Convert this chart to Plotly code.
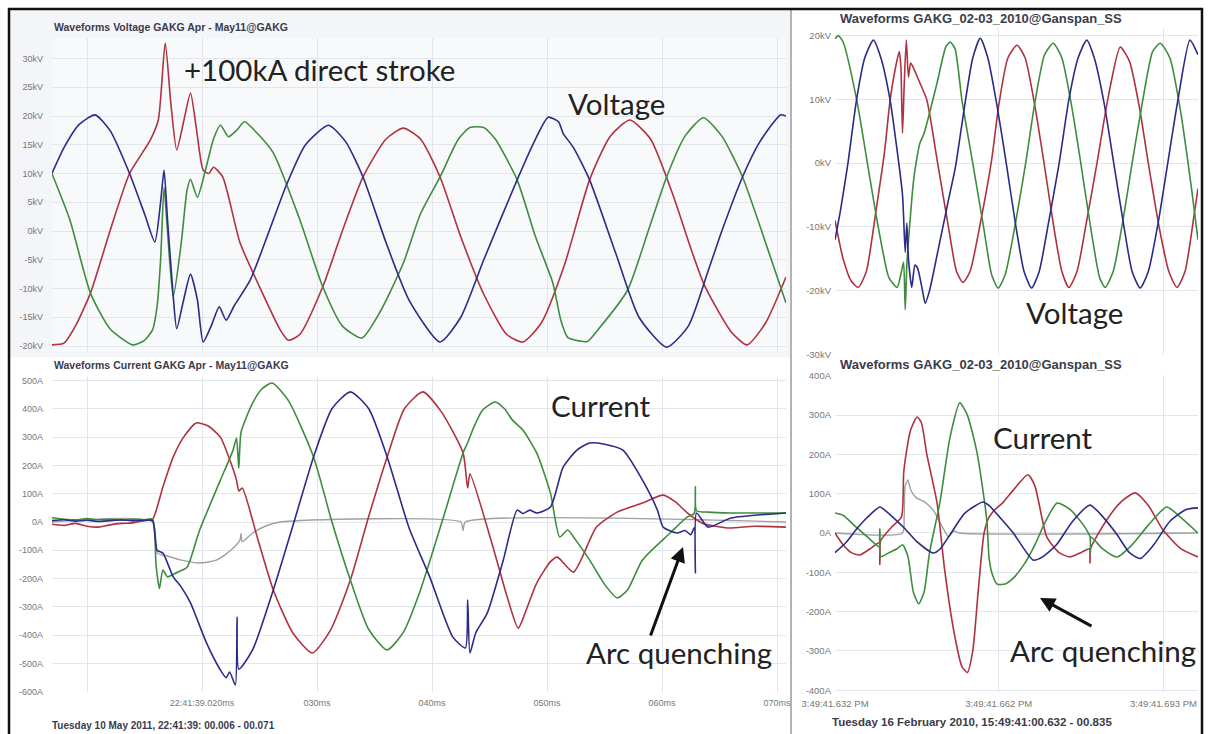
import plotly.graph_objects as go

W, H = 1210, 734

# ---------------- LEFT PANEL: voltage (kV) vs time (ms) ----------------
lv_blue_t = [6.95, 8.0, 9.3, 10.7, 12.0, 13.7, 15.0, 15.9, 16.4, 16.7, 17.0, 17.5, 17.8, 18.4, 19.0, 19.6, 20.1, 20.8,
             21.5, 22.1, 22.8, 24.2, 27.4, 29.0, 31.0, 32.5, 34.0, 36.0, 38.0, 40.7, 42.5, 44.5, 47.4, 49.0, 50.1, 51.0,
             51.4, 52.3, 53.7, 56.0, 58.0, 60.4, 62.3, 64.0, 65.2, 67.0, 68.5, 70.3, 70.78]
lv_blue_v = [10.0, 14.5, 18.5, 20.2, 17.5, 10.0, 3.0, -1.9, 5.0, 10.6, 2.0, -11.4, -17.0, -12.0, -7.5, -12.0, -19.3, -16.5,
             -13.2, -15.5, -13.0, -8.5, 8.3, 15.0, 18.4, 15.5, 9.4, -2.0, -12.0, -19.3, -15.0, -5.0, 8.9, 16.0, 19.8, 19.0,
             17.0, 14.5, 8.9, -4.0, -15.0, -20.2, -16.5, -7.0, 0.0, 9.4, 15.5, 20.2, 20.0]

lv_red_t = [6.95, 8.0, 9.0, 10.3, 12.0, 13.7, 15.5, 16.2, 16.8, 17.3, 17.8, 18.4, 19.0, 19.5, 20.1, 20.6, 21.0, 21.8,
            23.3, 25.0, 26.8, 27.5, 28.5, 30.5, 32.2, 34.0, 36.0, 37.5, 39.0, 40.7, 42.5, 44.5, 46.5, 47.9, 49.5, 51.5,
            53.7, 55.5, 57.2, 59.0, 61.0, 62.5, 63.7, 66.0, 67.4, 69.0, 70.78]
lv_red_v = [-19.8, -19.5, -16.5, -10.8, 0.0, 10.0, 15.8, 19.3, 32.7, 22.0, 14.1, 19.0, 24.0, 18.0, 10.6, 10.0, 11.1, 9.4,
            -2.0, -9.7, -17.2, -19.0, -18.0, -9.7, 0.0, 9.4, 16.0, 17.9, 16.0, 9.4, -1.0, -11.0, -18.0, -19.3, -16.0, -6.0,
            8.9, 16.5, 19.3, 16.0, 6.0, -3.0, -9.5, -17.5, -19.8, -16.0, -8.0]

lv_green_t = [6.95, 8.5, 10.3, 12.0, 14.0, 15.0, 15.7, 16.1, 16.4, 16.7, 17.0, 17.5, 18.2, 18.7, 19.0, 19.6, 20.3, 21.0,
              21.6, 22.3, 23.0, 23.7, 24.8, 26.2, 28.5, 30.5, 32.2, 33.9, 35.5, 37.5, 39.0, 40.7, 42.3, 43.3, 44.5, 45.5,
              47.4, 49.0, 50.5, 51.2, 51.8, 52.5, 53.5, 54.5, 57.0, 58.8, 60.4, 62.0, 63.6, 65.2, 67.0, 69.0, 70.78]
lv_green_v = [10.0, 2.0, -10.8, -17.0, -19.8, -19.0, -17.2, -13.0, -5.0, 7.6, 0.0, -11.4, -2.0, 7.1, 9.0, 5.9, 10.6, 16.0,
              18.4, 16.4, 17.5, 19.0, 17.0, 13.6, 2.0, -9.7, -16.5, -18.6, -14.0, -5.6, 3.0, 9.4, 16.0, 18.0, 18.0, 16.0,
              8.9, -1.0, -9.0, -15.5, -18.5, -19.0, -19.2, -17.0, -10.3, 0.0, 9.4, 16.5, 19.7, 16.5, 9.4, -2.0, -12.5]

# ---------------- LEFT PANEL: current (A) ----------------
li_red_t = [6.95, 8.0, 9.0, 10.0, 11.0, 12.0, 13.0, 14.0, 15.0, 15.7, 16.6, 17.5, 18.4, 19.5, 20.5, 21.6, 22.5, 23.0,
            23.2, 23.5, 24.8, 26.2, 27.9, 29.6, 31.2, 32.9, 34.5, 36.1, 37.6, 39.2, 40.8, 42.7, 43.1, 43.3, 45.3, 46.5,
            47.5, 48.2, 49.1, 50.3, 50.9, 52.3, 54.3, 56.1, 58.3, 60.1, 61.2, 62.2, 63.5, 65.7, 68.0, 70.78]
li_red_i = [-8, -12, -5, -15, -18, -10, -5, -3, 5, 10, 124, 230, 300, 350, 340, 300, 210, 148,
            110, 120, -53, -240, -392, -463, -380, -205, 20, 230, 400, 460, 390, 244, 120, 170, -88, -260,
            -375, -310, -216, -140, -124, -177, -18, 35, 67, 95, 70, 32, -4, -21, -15, -18]

li_green_t = [6.95, 8.0, 9.0, 10.0, 11.0, 12.0, 13.0, 14.0, 15.0, 15.7, 16.0, 16.2, 16.3, 16.6, 17.0, 17.5, 18.0, 18.7,
              19.8, 21.6, 22.7, 23.0, 23.2, 23.4, 24.4, 25.2, 26.1, 27.5, 29.7, 31.3, 32.9, 34.5, 36.1, 37.5, 39.0,
              41.0, 42.7, 43.1, 43.6, 44.4, 45.5, 46.3, 47.0, 47.9, 49.1, 50.3, 51.1, 51.8, 52.5, 53.7, 55.0, 56.1,
              57.0, 58.3, 60.7, 62.2, 62.8, 62.9, 63.0, 64.0, 66.0, 70.78]
li_green_i = [15, 10, 8, 12, 8, 10, 6, 10, 8, 10, -150, -216, -235, -170, -194, -185, -175, -160,
              -28, 148, 254, 297, 190, 318, 420, 470, 491, 430, 230, 0, -205, -380, -452, -390, -240,
              18, 244, 280, 332, 396, 424, 400, 360, 325, 244, 102, -53, -28, -64, -134, -220, -268,
              -240, -134, -39, 18, 30, 124, 40, 35, 32, 32]

li_blue_t = [6.95, 8.0, 9.0, 10.0, 11.0, 12.0, 13.0, 14.0, 15.0, 15.7, 16.1, 16.6, 17.5, 18.2, 19.0, 20.4, 21.6, 22.1,
             22.4, 22.9, 23.05, 23.2, 24.4, 26.2, 28.0, 29.7, 31.3, 32.9, 34.5, 36.1, 38.0, 39.8, 41.8, 42.9, 43.1,
             43.3, 43.8, 44.8, 46.2, 47.4, 47.9, 48.5, 49.1, 50.3, 51.4, 52.6, 53.7, 55.0, 56.6, 58.3, 59.6, 60.1,
             61.3, 62.0, 62.5, 62.8, 62.9, 63.0, 64.0, 66.0, 70.78]
li_blue_i = [5, 8, 3, 6, 2, 5, 8, 4, 6, 5, -100, -110, -194, -230, -286, -428, -523, -550,
             -530, -576, -336, -520, -452, -240, 0, 230, 400, 460, 400, 230, -20, -194, -406, -445, -275,
             -463, -392, -322, -134, 42, 30, 42, 32, 53, 194, 254, 279, 275, 254, 148, 42, -18,
             -39, -30, -45, -20, -180, 32, -18, 14, 32]

li_gray_t = [6.95, 15.7, 16.1, 17.0, 18.1, 19.8, 21.3, 22.5, 23.3, 23.4, 23.5, 24.4, 25.5, 26.8, 42.5, 42.7, 42.9, 70.78]
li_gray_i = [0, 0, -110, -120, -134, -145, -134, -100, -64, -40, -70, -39, -15, 0, 0, -30, 0, 0]

# ---------------- RIGHT PANEL: voltage (kV) ----------------
rv_green_t = [632.0, 632.6, 633.5, 636.0, 638.0, 640.0, 642.0, 643.5, 644.3, 644.7, 645.0, 645.3, 646.0, 646.5, 647.0,
              647.7, 648.5, 650.9, 652.5, 653.3, 654.2, 655.5, 657.5, 659.5, 661.0, 662.2, 663.5, 665.5, 667.3,
              669.0, 670.8, 672.4, 674.0, 676.0, 677.5, 679.5, 681.0, 682.0, 683.5, 685.5, 687.0, 689.0, 690.8,
              692.2, 694.0, 696.0, 698.0, 699.2]
rv_green_v = [19.5, 20.0, 19.0, 10.0, 0.0, -10.0, -18.0, -19.5, -17.0, -15.5, -23.0, -16.0, -7.9, -3.1, 0.0,
              3.1, 4.7, 12.6, 18.2, 19.0, 18.0, 9.9, 0.0, -10.0, -17.5, -19.6, -17.5, -9.0, 0.0,
              9.5, 17.0, 18.8, 16.5, 8.0, 0.0, -11.0, -18.0, -19.5, -17.0, -8.0, 0.0, 10.0, 17.5,
              18.8, 16.5, 8.0, -4.0, -12.0]

rv_blue_t = [632.0, 633.0, 634.4, 636.0, 637.5, 639.1, 640.5, 642.2, 643.5, 644.5, 645.0, 645.3, 645.6, 646.2, 646.8,
             647.3, 648.2, 648.7, 649.5, 651.0, 653.0, 654.3, 656.0, 657.5, 658.9, 660.3, 662.0, 663.7, 665.5,
             667.0, 668.4, 669.8, 671.5, 673.5, 675.3, 677.0, 678.6, 680.0, 681.8, 683.6, 685.5, 687.0, 688.5,
             690.0, 691.8, 693.6, 695.5, 697.7, 699.2]
rv_blue_v = [-12.0, -7.5, 0.0, 10.0, 16.5, 19.3, 16.5, 9.9, 2.0, -5.0, -14.0, -9.4, -15.0, -19.5, -16.0,
             -16.5, -20.0, -22.0, -20.0, -14.0, -5.8, -0.6, 9.0, 16.5, 19.6, 16.5, 9.0, 0.0, -10.0,
             -17.0, -19.6, -17.0, -9.5, 0.0, 10.0, 16.5, 19.3, 16.5, 9.5, 0.0, -10.0, -17.0, -19.6,
             -17.0, -9.5, 0.0, 10.0, 19.3, 17.0]

rv_red_t = [632.0, 633.5, 635.0, 636.3, 637.8, 639.6, 641.2, 642.2, 643.2, 643.9, 644.2, 644.5, 644.8, 645.2, 645.6,
            646.0, 646.5, 647.5, 649.0, 651.0, 653.0, 654.5, 655.7, 657.0, 659.0, 661.0, 662.3, 664.0, 665.7,
            667.2, 669.0, 670.7, 672.5, 674.0, 675.3, 676.8, 678.5, 680.5, 682.5, 684.8, 686.5, 688.3, 690.0,
            692.0, 693.8, 695.3, 696.8, 698.5, 699.2]
rv_red_v = [-9.0, -15.0, -18.5, -19.5, -17.0, -7.4, 2.0, 9.9, 15.0, 17.5, 15.0, 4.7, 12.0, 19.3, 13.5,
            15.7, 15.0, 13.0, 9.9, 0.0, -10.0, -17.0, -18.7, -17.0, -9.0, 0.5, 9.0, 16.5, 18.5,
            16.5, 9.0, 0.0, -10.0, -17.0, -19.5, -17.0, -9.5, 0.0, 10.0, 18.2, 16.0, 9.0, 0.0,
            -10.0, -17.0, -19.5, -17.0, -8.0, -4.0]

# ---------------- RIGHT PANEL: current (A) ----------------
ri_red_t = [632.0, 633.5, 635.0, 636.6, 638.5, 640.2, 640.3, 640.45, 642.5, 644.3, 644.7, 645.0, 646.0, 647.2, 648.0,
            649.0, 650.9, 652.3, 654.0, 655.5, 656.5, 657.5, 658.5, 659.6, 660.5, 661.5, 663.0, 665.0, 667.7,
            669.0, 671.2, 673.5, 675.5, 677.5, 679.1, 679.2, 679.3, 682.3, 685.0, 687.6, 690.0, 692.7, 696.0, 699.2]
ri_red_i = [0, -30, -50, -56, -40, -25, -80, -20, 15, 41, 150, 186, 262, 295, 280,
            200, 76, -94, -250, -340, -355, -300, -150, 0, 40, 58, 76, 109, 148,
            120, -10, -50, -61, -50, -40, -76, -40, 33, 80, 102, 70, 8, -40, -61]

ri_green_t = [632.0, 633.5, 635.5, 638.0, 640.2, 640.3, 640.45, 642.0, 643.5, 644.5, 645.5, 646.5, 647.5, 648.5,
              649.5, 651.4, 653.3, 655.1, 656.5, 658.3, 660.1, 660.5, 661.0, 662.0, 663.5, 665.0, 667.0, 669.0,
              671.0, 673.1, 675.5, 678.0, 679.2, 679.3, 679.4, 681.5, 684.2, 687.0, 690.0, 693.4, 696.0, 699.2]
ri_green_i = [51, 45, 20, -10, -35, 10, -60, -50, -40, -30, -60, -150, -180, -150,
              -50, 76, 244, 331, 300, 204, 33, -60, -100, -130, -130, -115, -80, -30,
              30, 76, 60, 20, -10, -50, -10, -40, -61, -30, 20, 66, 40, 0]

ri_blue_t = [632.0, 634.0, 636.0, 638.0, 640.3, 641.5, 643.5, 645.0, 647.0, 650.2, 651.5, 653.5, 656.0, 659.4,
             660.5, 662.5, 665.0, 668.7, 670.5, 673.0, 676.0, 679.2, 681.0, 684.0, 686.5, 688.5, 691.0, 694.0,
             697.0, 699.2]
ri_blue_i = [-50, -25, 10, 40, 66, 55, 30, 10, -20, -51, -40, 0, 50, 79,
             70, 40, 0, -69, -60, -30, 30, 71, 50, 0, -50, -65, -30, 30,
             60, 64]

ri_gray_t = [632.0, 644.5, 644.8, 645.0, 645.5, 646.0, 647.0, 648.5, 650.2, 651.5, 652.5, 653.0, 654.0, 655.0, 699.2]
ri_gray_i = [0, 0, 40, 120, 135, 110, 90, 80, 58, 25, 0, -10, 5, 0, 0]

# ---------------- tick labels ----------------
lv_ticks = [30, 25, 20, 15, 10, 5, 0, -5, -10, -15, -20]
lv_labels = ["30kV", "25kV", "20kV", "15kV", "10kV", "5kV", "0kV", "-5kV", "-10kV", "-15kV", "-20kV"]
li_ticks = [500, 400, 300, 200, 100, 0, -100, -200, -300, -400, -500, -600]
li_labels = ["500A", "400A", "300A", "200A", "100A", "0A", "-100A", "-200A", "-300A", "-400A", "-500A", "-600A"]
lx_ticks = [10, 20, 30, 40, 50, 60, 70]
lx_labels = ["", "22:41:39.020ms", "030ms", "040ms", "050ms", "060ms", "070ms"]
rv_ticks = [20, 10, 0, -10, -20, -30]
rv_labels = ["20kV", "10kV", "0kV", "-10kV", "-20kV", "-30kV"]
ri_ticks = [400, 300, 200, 100, 0, -100, -200, -300, -400]
ri_labels = ["400A", "300A", "200A", "100A", "0A", "-100A", "-200A", "-300A", "-400A"]
rx_ticks = [632, 662.3, 692.8]
rx_labels = ["3:49:41.632 PM", "3:49:41.662 PM", "3:49:41.693 PM"]

RED, GREEN, BLUE, GRAY = "#b0323f", "#3f8c3f", "#2b2b88", "#a0a0a0"


def px(x):
    return x / W


def py(y):
    return 1 - y / H


fig = go.Figure()


def add(t, v, color, xa, ya, width=1.6):
    fig.add_trace(go.Scatter(x=t, y=v, mode="lines", xaxis=xa, yaxis=ya,
                             line=dict(color=color, width=width, shape="spline", smoothing=0.6),
                             hoverinfo="skip", showlegend=False))


# left voltage
add(lv_red_t, lv_red_v, RED, "x", "y")
add(lv_green_t, lv_green_v, GREEN, "x", "y")
add(lv_blue_t, lv_blue_v, BLUE, "x", "y")
# left current
add(li_gray_t, li_gray_i, GRAY, "x2", "y2", 1.4)
add(li_red_t, li_red_i, RED, "x2", "y2")
add(li_green_t, li_green_i, GREEN, "x2", "y2")
add(li_blue_t, li_blue_i, BLUE, "x2", "y2")
# right voltage
add(rv_red_t, rv_red_v, RED, "x3", "y3")
add(rv_green_t, rv_green_v, GREEN, "x3", "y3")
add(rv_blue_t, rv_blue_v, BLUE, "x3", "y3")
# right current
add(ri_gray_t, ri_gray_i, GRAY, "x4", "y4", 1.4)
add(ri_red_t, ri_red_i, RED, "x4", "y4")
add(ri_green_t, ri_green_i, GREEN, "x4", "y4")
add(ri_blue_t, ri_blue_i, BLUE, "x4", "y4")

tickfont = dict(family="Liberation Sans", size=9, color="#777777")
rtickfont = dict(family="Liberation Sans", size=9.5, color="#777777")
grid = "#e2e6ec"
common = dict(showgrid=True, gridcolor=grid, gridwidth=1, zeroline=False, showline=False,
              ticks="", fixedrange=True, automargin=False)

LX = [px(52), px(786)]
RX = [px(835), px(1198)]

fig.update_layout(
    template="none",
    width=W, height=H, margin=dict(l=0, r=0, t=0, b=0, pad=0, autoexpand=False),
    paper_bgcolor="white", plot_bgcolor="rgba(0,0,0,0)",
    showlegend=False,
    xaxis=dict(domain=LX, anchor="y", range=[6.957, 70.78], tickvals=lx_ticks, showticklabels=False,
               tickfont=tickfont, **common),
    yaxis=dict(domain=[py(352), py(38)], anchor="x", range=[-21.04, 33.57], tickvals=lv_ticks,
               ticktext=lv_labels, ticklabelstandoff=8, tickfont=tickfont, **common),
    xaxis2=dict(domain=LX, anchor="y2", range=[6.957, 70.78], tickvals=lx_ticks, ticktext=lx_labels,
                ticklabelstandoff=4, tickfont=tickfont, **common),
    yaxis2=dict(domain=[py(692), py(377)], anchor="x2", range=[-600.7, 512.4], tickvals=li_ticks,
                ticktext=li_labels, ticklabelstandoff=8, tickfont=tickfont, **common),
    xaxis3=dict(domain=RX, anchor="y3", range=[632, 699.2], tickvals=rx_ticks, showticklabels=False,
                tickfont=rtickfont, **common),
    yaxis3=dict(domain=[py(355), py(28)], anchor="x3", range=[-30.1, 21.2], tickvals=rv_ticks,
                ticktext=rv_labels, ticklabelstandoff=3, tickfont=rtickfont, **common),
    xaxis4=dict(domain=RX, anchor="y4", range=[632, 699.2], tickvals=rx_ticks, ticktext=rx_labels,
                ticklabelstandoff=4, tickfont=rtickfont, **common),
    yaxis4=dict(domain=[py(692), py(375)], anchor="x4", range=[-404.6, 402], tickvals=ri_ticks,
                ticktext=ri_labels, ticklabelstandoff=3, tickfont=rtickfont, **common),
)

shapes = [
    # light background of the left voltage panel
    dict(type="rect", xref="paper", yref="paper", x0=px(10), x1=px(790), y0=py(357), y1=py(10),
         fillcolor="#f3f5f9", line=dict(width=0), layer="below"),
    dict(type="rect", xref="paper", yref="paper", x0=px(52), x1=px(786), y0=py(352), y1=py(38),
         fillcolor="#f8f9fb", line=dict(width=0), layer="below"),
    # panel divider
    dict(type="line", xref="paper", yref="paper", x0=px(791), x1=px(791), y0=py(734), y1=py(10),
         line=dict(color="#9a9a9a", width=1.5)),
    # outer frame
    dict(type="rect", xref="paper", yref="paper", x0=px(9), x1=px(1202), y0=py(740), y1=py(9),
         line=dict(color="#111111", width=2.5)),
]
fig.update_layout(shapes=shapes)

tfont = dict(family="Liberation Sans", size=10.5, color="#3b3b4b")
rfont = dict(family="Liberation Sans", size=13, color="#3b3b4b")
ffont_l = dict(family="Liberation Sans", size=10, color="#3b3b4b")
ffont_r = dict(family="Liberation Sans", size=11.5, color="#3b3b4b")
big = dict(family="Lato", size=29.5, color="#222222")
anns = [
    dict(text="<b>Waveforms Voltage GAKG Apr - May11@GAKG</b>", x=px(52), y=py(27), font=tfont),
    dict(text="<b>Waveforms Current GAKG Apr - May11@GAKG</b>", x=px(52), y=py(365), font=tfont),
    dict(text="<b>Waveforms GAKG_02-03_2010@Ganspan_SS</b>", x=px(838), y=py(18), font=rfont),
    dict(text="<b>Waveforms GAKG_02-03_2010@Ganspan_SS</b>", x=px(838), y=py(364), font=rfont),
    dict(text="<b>Tuesday 10 May 2011, 22:41:39: 00.006 - 00.071</b>", x=px(50), y=py(725), font=ffont_l),
    dict(text="<b>Tuesday 16 February 2010, 15:49:41:00.632 - 00.835</b>", x=px(830), y=py(722), font=ffont_r),
    dict(text="+100kA direct stroke", x=px(182), y=py(70), font=big),
    dict(text="Voltage", x=px(566), y=py(103), font=big),
    dict(text="Current", x=px(549), y=py(405), font=big),
    dict(text="Arc quenching", x=px(584), y=py(652), font=big),
    dict(text="Voltage", x=px(1024), y=py(312), font=big),
    dict(text="Current", x=px(991), y=py(437), font=big),
    dict(text="Arc quenching", x=px(1008), y=py(650), font=big),
]
annotations = []
for a in anns:
    a.update(xref="paper", yref="paper", xanchor="left", yanchor="middle", showarrow=False)
    annotations.append(a)

annotations.append(dict(x=px(683), y=py(547), xref="paper", yref="paper", ax=-33, ay=90, text="",
                        showarrow=True, arrowhead=2, arrowsize=1, arrowwidth=3, arrowcolor="#111111"))
annotations.append(dict(x=px(1040), y=py(598), xref="paper", yref="paper", ax=53, ay=29, text="",
                        showarrow=True, arrowhead=2, arrowsize=1, arrowwidth=3, arrowcolor="#111111"))
fig.update_layout(annotations=annotations)

fig.write_html("out.html")
